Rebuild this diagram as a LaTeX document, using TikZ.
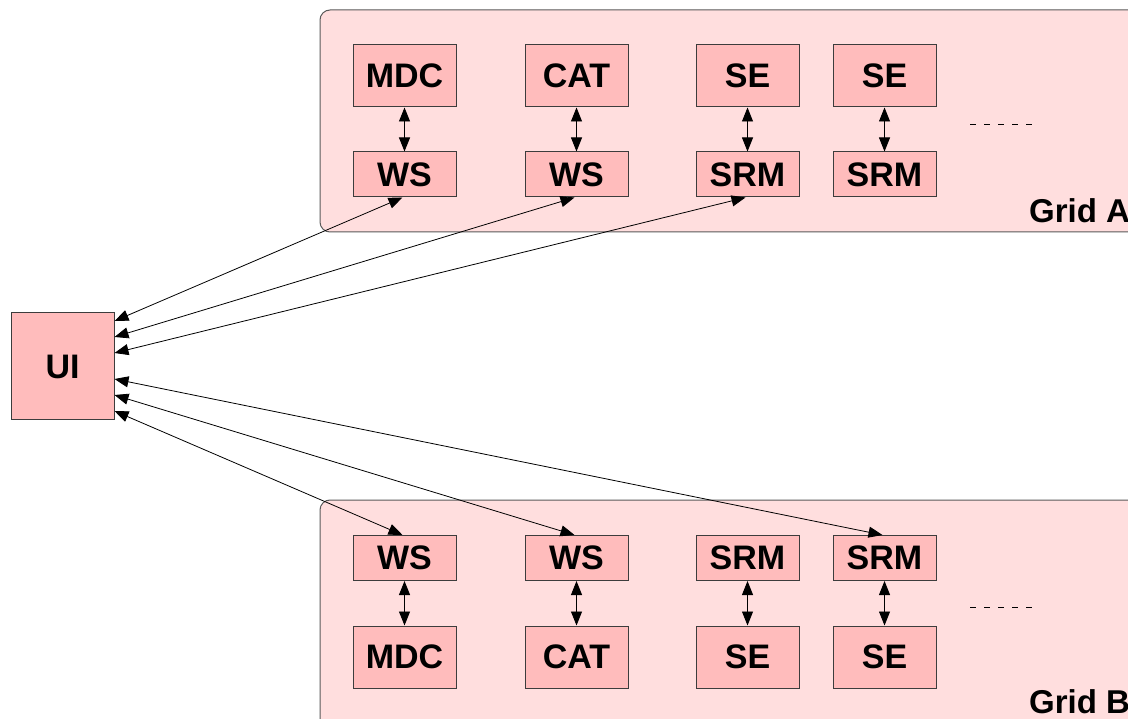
\documentclass[tikz,border=0pt]{standalone}
\usepackage{fontspec}
\setmainfont{Liberation Sans}
\usetikzlibrary{arrows.meta,calc}
\definecolor{boxfill}{RGB}{255,188,188}
\definecolor{gridfill}{RGB}{255,222,222}
\definecolor{edge}{RGB}{60,60,60}
\definecolor{gridedge}{RGB}{90,90,90}
\tikzset{
  comp/.style={draw=edge,fill=boxfill,line width=1pt,minimum width=103pt,inner sep=0pt,
    font=\fontsize{34}{40}\selectfont\bfseries},
  tall/.style={comp,minimum height=62pt},
  short/.style={comp,minimum height=45pt},
  gridbox/.style={draw=gridedge,fill=gridfill,line width=1pt,rounded corners=10pt},
  link/.style={line width=0.8pt,{Triangle[length=14pt,width=11pt]}-{Triangle[length=14pt,width=11pt]}},
  dots/.style={line width=1pt,dash pattern=on 6pt off 8pt},
  gridlabel/.style={anchor=base west,inner sep=0pt,font=\fontsize{33}{38}\selectfont\bfseries}
}
\begin{document}
\begin{tikzpicture}[x=1pt,y=-1pt]
\useasboundingbox (0,0) rectangle (1128,719);
\clip (0,0) rectangle (1128,719);
\fill[white] (0,0) rectangle (1128,719);
% grids
\path[gridbox] (320,10) rectangle (1170,232);
\path[gridbox] (320,500) rectangle (1170,760);
\node[gridlabel] (labA) at (1029,223) {Grid A};
\node[gridlabel] (labB) at (1029,713) {Grid B};
% Grid A
\node[tall] (a1) at (404.5,76) {MDC};
\node[tall] (a2) at (576.5,76) {CAT};
\node[tall] (a3) at (747.5,76) {SE};
\node[tall] (a4) at (884.5,76) {SE};
\node[short] (b1) at (404.5,174.5) {WS};
\node[short] (b2) at (576.5,174.5) {WS};
\node[short] (b3) at (747.5,174.5) {SRM};
\node[short] (b4) at (884.5,174.5) {SRM};
% Grid B
\node[short] (c1) at (404.5,558) {WS};
\node[short] (c2) at (576.5,558) {WS};
\node[short] (c3) at (747.5,558) {SRM};
\node[short] (c4) at (884.5,558) {SRM};
\node[tall] (d1) at (404.5,657) {MDC};
\node[tall] (d2) at (576.5,657) {CAT};
\node[tall] (d3) at (747.5,657) {SE};
\node[tall] (d4) at (884.5,657) {SE};
% UI
\node[comp,minimum height=107pt] (ui) at (62.5,366.5) {UI};
% vertical links
\foreach \i in {1,2,3,4}{
  \draw[link] (a\i) -- (b\i);
  \draw[link] (c\i) -- (d\i);
}
% dashes
\coordinate (dA1) at (970,125); \coordinate (dA2) at (1033,125);
\coordinate (dB1) at (970,607); \coordinate (dB2) at (1033,607);
\draw[dots] (dA1) -- (dA2);
\draw[dots] (dB1) -- (dB2);
% UI links
\draw[link] ([yshift=45.5pt]ui.east) -- ([xshift=-2pt]b1.south);
\draw[link] ([yshift=29.5pt]ui.east) -- ([xshift=-2pt]b2.south);
\draw[link] ([yshift=13.5pt]ui.east) -- ([xshift=-2pt]b3.south);
\draw[link] ([yshift=-12.5pt]ui.east) -- ([xshift=-2pt]c4.north);
\draw[link] ([yshift=-28.5pt]ui.east) -- ([xshift=-2pt]c2.north);
\draw[link] ([yshift=-44.5pt]ui.east) -- ([xshift=-2pt]c1.north);
\end{tikzpicture}
\end{document}
